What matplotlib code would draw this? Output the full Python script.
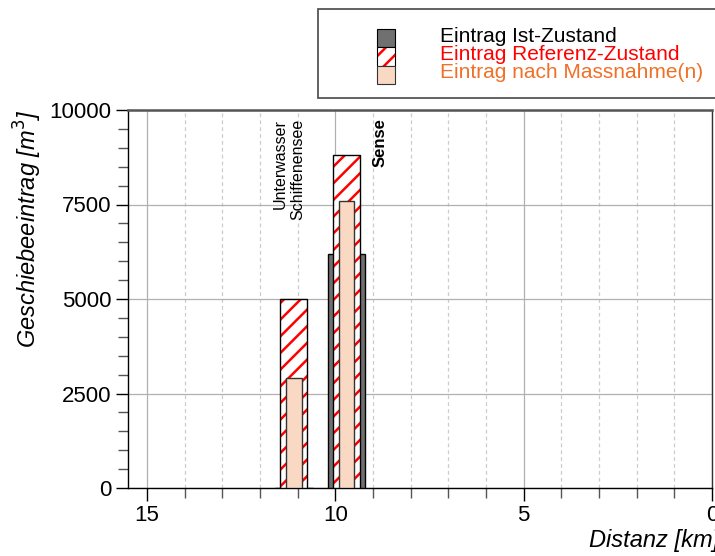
import matplotlib
matplotlib.use("Agg")
import matplotlib.pyplot as plt
from matplotlib.patches import Rectangle
from matplotlib.ticker import MultipleLocator

plt.rcParams['font.family'] = ['Liberation Sans', 'DejaVu Sans']
plt.rcParams['hatch.linewidth'] = 1.8

# Geschiebeeintrag pro Zufluss
distanz = [11.1, 9.7]               # km
eintrag_ist = [0, 6200]             # m3
eintrag_referenz = [5000, 8800]     # m3
eintrag_massnahme = [2900, 7600]    # m3
orte = ["Unterwasser\nSchiffenensee", "Sense"]
ort_x = [11.22, 8.8]

legende_texte = ["Eintrag Ist-Zustand", "Eintrag Referenz-Zustand",
                 "Eintrag nach Massnahme(n)"]

c_ist = "#707070"
c_ref = "#ff0000"
c_mass = "#f9d9c4"
c_mass_txt = "#f07028"

W, H = 715, 556
fig = plt.figure(figsize=(W / 100, H / 100), dpi=100)
ax = fig.add_axes([128 / W, (H - 488) / H, (712 - 128) / W, (488 - 110) / H])

# Balken: Ist hinten, Referenz (schraffiert), Massnahme vorne
ax.bar(distanz, eintrag_ist, width=1.0, color=c_ist, edgecolor="black",
       linewidth=1.0, zorder=3)
ax.bar(distanz, eintrag_referenz, width=0.72, color="white", edgecolor=c_ref,
       hatch="//", linewidth=0, zorder=4)
ax.bar(distanz, eintrag_referenz, width=0.72, fill=False, edgecolor="black",
       linewidth=1.0, zorder=5)
ax.bar(distanz, eintrag_massnahme, width=0.42, color=c_mass, edgecolor="#333333",
       linewidth=1.0, zorder=6)

ax.set_xlim(15.5, 0)
ax.set_ylim(0, 10000)
ax.xaxis.set_major_locator(MultipleLocator(5))
ax.xaxis.set_minor_locator(MultipleLocator(1))
ax.yaxis.set_major_locator(MultipleLocator(2500))
ax.yaxis.set_minor_locator(MultipleLocator(500))
ax.grid(which="major", color="#b0b0b0", linewidth=0.9, zorder=0)
ax.grid(which="minor", axis="x", color="#cccccc", linewidth=0.9,
        linestyle=(0, (3, 2.5)), zorder=0)
ax.set_axisbelow(True)

ax.tick_params(which="major", length=9, width=1.0, labelsize=16, pad=3)
ax.tick_params(which="minor", length=7, width=1.0, color="#555555")
ax.spines["top"].set_color("#555555")
ax.spines["top"].set_linewidth(1.8)
ax.spines["right"].set_color("#333333")
ax.spines["right"].set_linewidth(1.0)
for s in ["left", "bottom"]:
    ax.spines[s].set_color("black")
    ax.spines[s].set_linewidth(1.0)

ax.set_ylabel("Geschiebeeintrag [m$^3$]", fontsize=17, style="italic",
              loc="top", labelpad=4)
ax.set_xlabel("Distanz [km]", fontsize=17, style="italic")
ax.xaxis.set_label_coords(1.012, -0.108)
ax.xaxis.label.set_horizontalalignment("right")

# Ortsbezeichnungen
ax.text(ort_x[0], 9760, orte[0], rotation=90, ha="center", va="top",
        multialignment="right", fontsize=11.5, zorder=7)
ax.text(ort_x[1], 9790, orte[1], rotation=90, ha="center", va="top",
        fontsize=12, fontweight="bold", zorder=7)

# Legende in Pixelkoordinaten
lg = fig.add_axes([0, 0, 1, 1], zorder=10)
lg.set_xlim(0, W)
lg.set_ylim(H, 0)
lg.axis("off")
lg.patch.set_alpha(0)
lg.add_patch(Rectangle((318, 9), 420, 89, facecolor="white",
                       edgecolor="#555555", linewidth=1.3))
lg.add_patch(Rectangle((377, 29), 18, 18, facecolor=c_ist,
                       edgecolor="black", linewidth=0.8))
lg.add_patch(Rectangle((377, 47), 18, 19, facecolor="white",
                       edgecolor=c_ref, hatch="//", linewidth=0))
lg.add_patch(Rectangle((377, 47), 18, 19, fill=False,
                       edgecolor="black", linewidth=0.8))
lg.add_patch(Rectangle((377, 66), 18, 18, facecolor=c_mass,
                       edgecolor="#333333", linewidth=0.8))
for txt, y, col in zip(legende_texte, [37, 55, 73], ["black", c_ref, c_mass_txt]):
    lg.text(440, y, txt, color=col, fontsize=15, va="center", ha="left")

fig.savefig("out.png", dpi=100)
